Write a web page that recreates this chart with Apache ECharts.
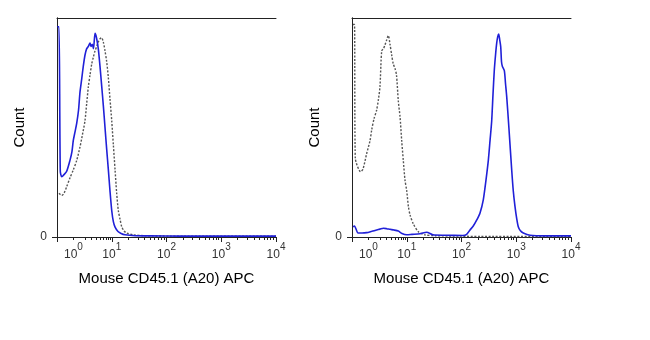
<!DOCTYPE html>
<html><head><meta charset="utf-8">
<script src="https://cdn.jsdelivr.net/npm/echarts@6/dist/echarts.min.js"></script>
<style>html,body{margin:0;padding:0;background:#fff}#c{width:650px;height:340px}</style>
</head><body><div id="c"></div>
<script>
// ---- data (intensity, % of max count) ----
const xTitle = 'Mouse CD45.1 (A20) APC';
const yTitle = 'Count';
const decadeExponents = ['0', '1', '2', '3', '4'];
const decadeValues = [1, 10, 100, 1000, 10000];

// Left panel
const leftBlueX = [0.02,0.12,0.2,0.29,0.43,0.59,0.79,0.91,0.99,1.10,1.22,1.36,1.48,1.64,1.81,2.0,2.22,2.45,2.71,2.87,3.11,3.34,3.66,4.0,4.45,4.93,5.46,6.03,6.67,7.38,8.13,9.0,10,10.7,11.5,13,14.8,17.5,26.6,50,177,950,5100,10000];
const leftBlueY = [96,96,30,27.5,28.5,30,35,39,44,48,52,58,66,72,78,83,86,87,88.6,87,88,86,93,91,86,78,69,60,50,40,31,21,12,7,4.5,2.5,1.6,1,0.6,0.5,0.4,0.4,0.4,0.4];
const leftGreyX = [0.12,0.29,0.43,0.59,0.79,0.99,1.22,1.48,1.73,2.0,2.22,2.45,2.71,3.0,3.3,3.66,4.05,4.45,4.93,5.46,6.03,6.67,7.38,8.13,9.0,10,10.7,11.5,12.3,13.2,14.2,15.2,16.7,18.8,24.4,40,116,10000];
const leftGreyY = [20,19,20,23,27,30.6,35,41,47,53,61,68.6,74,79,82,85,87,89,90.5,91,89,85,80,73,63,53,42,30.6,20,12,8,4.7,2.8,1.8,1,0.6,0.4,0.4];

// Right panel
const rightBlueX = [0.06,0.15,0.37,0.61,0.89,1.22,1.64,2.0,2.45,3.0,3.66,4.65,6.03,7.5,10,12.5,17.5,23.1,30,50,106,124,143,164,190,218,250,280,309,332,356,376,397,418,440,459,478,499,520,538,557,606,637,670,738,826,883,948,1018,1089,1194,1345,1783,3350,10000];
const rightBlueY = [4.7,5,1.8,1.8,2,2.6,3.2,3.6,4,3.8,3.5,3.2,2.7,1.6,1,1.2,1.5,2.2,1,0.8,0.7,1.2,3.2,5,7.8,11,17,26,35,44,53,65,76,83,88.6,91.5,92.7,90,87,80,78,76,70,64,49,30.6,21,14,8.5,4.7,2.8,1.8,0.8,0.5,0.5];
const rightGreyX = [0.06,0.15,0.2,0.53,0.67,0.89,1.10,1.22,1.40,1.64,1.83,2.0,2.22,2.47,2.71,3.0,3.3,3.66,4.05,4.45,4.93,5.4,6.03,6.67,7.38,8.13,9.0,10,10.7,11.5,13.2,16.3,21.5,33,94,218,10000];
const rightGreyY = [97,97,36,29.8,31,38,44,49,54,58,63,68.6,85,86,87.7,90,92,88,83,79,77,74,62,55,44,35,26,21,14,10,6,2.4,1,0.6,0.4,0.2,0.2];

// ---- biexponential-like display scale ----
function biex(v) {
  if (v <= 1) return 0.3 * v;
  if (v <= 10) return 0.3 + 0.7 * Math.log10(v);
  return Math.log10(v);
}
function pairs(xs, ys) { return xs.map((x, i) => [biex(x), ys[i]]); }

const majorTicks = [0].concat(decadeValues.slice(1).map(biex));
const minorTicks = [];
for (let d = 0; d < 4; d++) {
  for (let k = 1; k <= 9; k++) {
    if (d > 0 && k === 1) continue;
    minorTicks.push(biex(k * Math.pow(10, d)));
  }
}
const labelPositions = decadeValues.map(biex);

const FONT = 'Liberation Sans, Arial, sans-serif';
const AX = '#222';
const BLUE = '#2020d8';
const GREY = '#555';

const grids = [
  { left: 57, top: 18, width: 219, height: 219 },
  { left: 352, top: 18, width: 219, height: 219 }
];

const xAxes = [], yAxes = [], series = [];
grids.forEach((g, gi) => {
  xAxes.push({
    type: 'value', gridIndex: gi, min: 0, max: 4, position: 'bottom',
    name: xTitle, nameLocation: 'middle', nameGap: 34,
    nameTextStyle: { fontFamily: FONT, fontSize: 15, color: '#000' },
    axisLine: { show: true, lineStyle: { color: AX, width: 1 } },
    axisTick: { show: true, length: 5, customValues: majorTicks, lineStyle: { color: AX } },
    axisLabel: {
      show: true, margin: 5, customValues: labelPositions,
      formatter: function (v) {
        let idx = 0, best = 1e9;
        labelPositions.forEach((p, i) => { if (Math.abs(p - v) < best) { best = Math.abs(p - v); idx = i; } });
        return '{b|10}{s|' + decadeExponents[idx] + '}';
      },
      rich: {
        b: { fontFamily: FONT, fontSize: 12, color: '#333', lineHeight: 19, verticalAlign: 'bottom' },
        s: { fontFamily: FONT, fontSize: 10, color: '#333', lineHeight: 11, verticalAlign: 'top' }
      }
    },
    splitLine: { show: false }
  });
  xAxes.push({
    type: 'value', gridIndex: gi, min: 0, max: 4, position: 'bottom',
    axisLine: { show: false },
    axisTick: { show: true, length: 3, customValues: minorTicks, lineStyle: { color: AX } },
    axisLabel: { show: false },
    splitLine: { show: false }
  });
  xAxes.push({
    type: 'value', gridIndex: gi, min: 0, max: 4, position: 'top',
    axisLine: { show: true, lineStyle: { color: AX, width: 1 } },
    axisTick: { show: false }, axisLabel: { show: false }, splitLine: { show: false }
  });
  yAxes.push({
    type: 'value', gridIndex: gi, min: 0, max: 100, position: 'left',
    name: yTitle, nameLocation: 'middle', nameGap: 30,
    nameTextStyle: { fontFamily: FONT, fontSize: 15, color: '#000' },
    axisLine: { show: true, lineStyle: { color: AX, width: 1 } },
    axisTick: { show: true, length: 5, customValues: [0], lineStyle: { color: AX } },
    axisLabel: { show: true, margin: 10, customValues: [0], formatter: '0',
      fontFamily: FONT, fontSize: 12, color: '#333', padding: [0, 0, 6, 0] },
    splitLine: { show: false }
  });
  yAxes.push({
    type: 'value', gridIndex: gi, min: 0, max: 100, position: 'right',
    axisLine: { show: true, lineStyle: { color: AX, width: 1 } },
    axisTick: { show: false }, axisLabel: { show: false }, splitLine: { show: false }
  });
});

function addSeries(gi, xs, ys, color, dotted) {
  series.push({
    type: 'line', xAxisIndex: gi * 3, yAxisIndex: gi * 2,
    data: pairs(xs, ys), showSymbol: false, smooth: 0.25,
    lineStyle: dotted ? { color: color, width: 1.4, type: [2, 1.6] } : { color: color, width: 1.6 },
    z: dotted ? 2 : 3
  });
}
addSeries(0, leftGreyX, leftGreyY, GREY, true);
addSeries(0, leftBlueX, leftBlueY, BLUE, false);
addSeries(1, rightGreyX, rightGreyY, GREY, true);
addSeries(1, rightBlueX, rightBlueY, BLUE, false);

const chart = echarts.init(document.getElementById('c'), null, { renderer: 'canvas' });
chart.setOption({
  animation: false,
  backgroundColor: '#fff',
  grid: grids,
  xAxis: xAxes,
  yAxis: yAxes,
  series: series
});
</script>
</body></html>
